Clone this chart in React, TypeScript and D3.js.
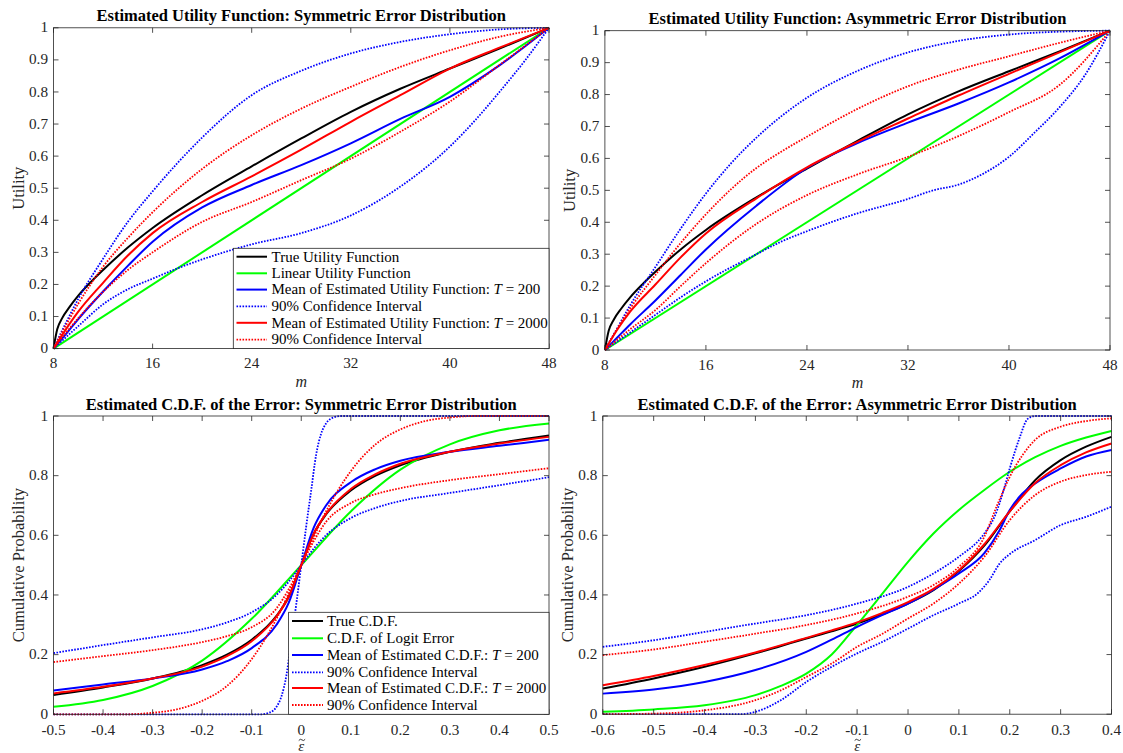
import React from "react";
import * as d3 from "d3";

type P = [number, number];

// ---------- tick labels ----------
const utilXTicks = [8, 16, 24, 32, 40, 48];
const utilYTicks = [0, 0.1, 0.2, 0.3, 0.4, 0.5, 0.6, 0.7, 0.8, 0.9, 1];
const utilYLabels = ["0", "0.1", "0.2", "0.3", "0.4", "0.5", "0.6", "0.7", "0.8", "0.9", "1"];
const symXTicks = [-0.5, -0.4, -0.3, -0.2, -0.1, 0, 0.1, 0.2, 0.3, 0.4, 0.5];
const symXLabels = ["-0.5", "-0.4", "-0.3", "-0.2", "-0.1", "0", "0.1", "0.2", "0.3", "0.4", "0.5"];
const asyXTicks = [-0.6, -0.5, -0.4, -0.3, -0.2, -0.1, 0, 0.1, 0.2, 0.3, 0.4];
const asyXLabels = ["-0.6", "-0.5", "-0.4", "-0.3", "-0.2", "-0.1", "0", "0.1", "0.2", "0.3", "0.4"];
const cdfYTicks = [0, 0.2, 0.4, 0.6, 0.8, 1];
const cdfYLabels = ["0", "0.2", "0.4", "0.6", "0.8", "1"];

// ---------- utility panels ----------
const trueUtility: P[] = [[8,0],[8.3,0.06],[8.7,0.095],[9.3,0.13],[10,0.165],[11,0.207],[12,0.245],[14,0.315],[16,0.376],[20,0.478],[24,0.568],[28,0.655],[32,0.738],[36,0.81],[40,0.873],[44,0.935],[48,1]];
const linearUtility: P[] = [[8,0],[48,1]];

const symUtilBlue: P[] = [[8,0],[9,0.045],[10,0.092],[12,0.178],[14,0.258],[16,0.333],[20,0.44],[24,0.51],[28,0.572],[32,0.64],[36,0.716],[40,0.785],[44,0.883],[48,1]];
const symUtilBlueUp: P[] = [[8,0],[9,0.08],[10,0.155],[12,0.28],[14,0.395],[16,0.49],[18,0.578],[20,0.658],[24,0.79],[28,0.866],[32,0.92],[36,0.956],[40,0.98],[44,0.995],[48,1]];
const symUtilBlueLo: P[] = [[8,0],[10,0.07],[12,0.138],[14,0.185],[16,0.218],[18,0.25],[20,0.278],[22,0.303],[24,0.325],[28,0.36],[32,0.415],[36,0.505],[40,0.63],[42,0.71],[44,0.8],[46,0.895],[48,1]];
const symUtilRed: P[] = [[8,0],[9,0.06],[10,0.115],[12,0.205],[14,0.29],[16,0.36],[20,0.457],[24,0.537],[28,0.62],[32,0.707],[36,0.79],[40,0.873],[44,0.938],[48,1]];
const symUtilRedUp: P[] = [[8,0],[10,0.14],[12,0.255],[14,0.345],[16,0.425],[20,0.56],[24,0.665],[28,0.748],[32,0.816],[36,0.878],[40,0.93],[44,0.972],[48,1]];
const symUtilRedLo: P[] = [[8,0],[10,0.095],[12,0.177],[14,0.245],[16,0.3],[20,0.395],[24,0.457],[28,0.525],[32,0.592],[36,0.676],[40,0.77],[44,0.884],[48,1]];

const asyUtilBlue: P[] = [[8,0],[9,0.04],[10,0.08],[12,0.155],[14,0.235],[16,0.315],[20,0.452],[24,0.57],[28,0.648],[32,0.712],[36,0.772],[40,0.838],[44,0.913],[48,1]];
const asyUtilBlueUp: P[] = [[8,0],[9,0.07],[10,0.14],[12,0.26],[14,0.38],[16,0.49],[18,0.585],[20,0.665],[24,0.79],[28,0.874],[32,0.932],[36,0.968],[40,0.988],[44,0.997],[48,1]];
const asyUtilBlueLo: P[] = [[8,0],[10,0.055],[12,0.11],[14,0.165],[16,0.215],[20,0.3],[22,0.34],[24,0.372],[28,0.428],[32,0.473],[34,0.5],[36,0.518],[38,0.553],[40,0.605],[42,0.68],[44,0.76],[46,0.86],[48,1]];
const asyUtilRed: P[] = [[8,0],[9,0.065],[10,0.12],[12,0.205],[14,0.29],[16,0.365],[20,0.475],[24,0.572],[28,0.652],[32,0.725],[36,0.797],[40,0.865],[44,0.932],[48,1]];
const asyUtilRedUp: P[] = [[8,0],[10,0.13],[12,0.235],[14,0.335],[16,0.425],[20,0.57],[22,0.622],[24,0.668],[28,0.755],[32,0.826],[36,0.878],[40,0.92],[44,0.962],[48,1]];
const asyUtilRedLo: P[] = [[8,0],[10,0.065],[12,0.125],[14,0.2],[16,0.272],[20,0.395],[24,0.485],[28,0.55],[32,0.605],[36,0.67],[40,0.745],[44,0.83],[48,1]];

// ---------- CDF symmetric ----------
const symCdfTrue: P[] = [[-0.5,0.065],[-0.4,0.09],[-0.3,0.12],[-0.2,0.165],[-0.15,0.2],[-0.1,0.25],[-0.05,0.33],[-0.025,0.395],[0,0.5],[0.025,0.605],[0.05,0.67],[0.1,0.75],[0.15,0.8],[0.2,0.835],[0.3,0.88],[0.4,0.91],[0.5,0.935]];
const symCdfLogit: P[] = [[-0.5,0.025],[-0.4,0.048],[-0.3,0.095],[-0.2,0.18],[-0.1,0.32],[0,0.5],[0.1,0.68],[0.2,0.82],[0.3,0.905],[0.4,0.952],[0.5,0.975]];
const symCdfBlue: P[] = [[-0.5,0.08],[-0.4,0.1],[-0.3,0.12],[-0.2,0.15],[-0.15,0.178],[-0.1,0.222],[-0.05,0.3],[-0.025,0.375],[0,0.5],[0.025,0.625],[0.05,0.7],[0.1,0.778],[0.15,0.822],[0.2,0.85],[0.3,0.88],[0.4,0.9],[0.5,0.92]];
const symCdfBlueSteep: P[] = [[-0.5,0],[-0.08,0],[-0.065,0.005],[-0.05,0.025],[-0.04,0.06],[-0.03,0.13],[-0.02,0.25],[-0.01,0.37],[0,0.5],[0.01,0.63],[0.02,0.75],[0.03,0.87],[0.04,0.94],[0.05,0.975],[0.065,0.995],[0.08,1],[0.5,1]];
const symCdfBlueFlat: P[] = [[-0.5,0.205],[-0.4,0.232],[-0.3,0.258],[-0.2,0.285],[-0.15,0.308],[-0.1,0.342],[-0.05,0.4],[-0.025,0.445],[0,0.5],[0.025,0.555],[0.05,0.6],[0.1,0.658],[0.15,0.692],[0.2,0.715],[0.3,0.742],[0.4,0.768],[0.5,0.795]];
const symCdfRed: P[] = [[-0.5,0.07],[-0.4,0.092],[-0.3,0.12],[-0.2,0.16],[-0.15,0.195],[-0.1,0.245],[-0.05,0.328],[-0.025,0.395],[0,0.5],[0.025,0.605],[0.05,0.672],[0.1,0.755],[0.15,0.805],[0.2,0.84],[0.3,0.88],[0.4,0.908],[0.5,0.93]];
const symCdfRedSteep: P[] = [[-0.5,0],[-0.35,0],[-0.3,0.005],[-0.25,0.017],[-0.2,0.045],[-0.15,0.095],[-0.1,0.185],[-0.05,0.32],[0,0.5],[0.05,0.68],[0.1,0.815],[0.15,0.905],[0.2,0.955],[0.25,0.983],[0.3,0.995],[0.35,1],[0.5,1]];
const symCdfRedFlat: P[] = [[-0.5,0.175],[-0.4,0.195],[-0.3,0.215],[-0.2,0.242],[-0.15,0.262],[-0.1,0.292],[-0.05,0.355],[-0.025,0.42],[0,0.5],[0.025,0.58],[0.05,0.645],[0.1,0.708],[0.15,0.738],[0.2,0.758],[0.3,0.785],[0.4,0.805],[0.5,0.825]];

// ---------- CDF asymmetric ----------
const asyCdfTrue: P[] = [[-0.6,0.086],[-0.5,0.12],[-0.4,0.159],[-0.3,0.204],[-0.2,0.254],[-0.15,0.278],[-0.1,0.304],[-0.05,0.335],[0,0.371],[0.05,0.416],[0.1,0.48],[0.15,0.565],[0.2,0.68],[0.25,0.785],[0.3,0.852],[0.35,0.897],[0.4,0.93]];
const asyCdfLogit: P[] = [[-0.6,0.008],[-0.5,0.016],[-0.4,0.03],[-0.3,0.064],[-0.25,0.095],[-0.2,0.136],[-0.15,0.2],[-0.1,0.3],[-0.05,0.405],[0,0.511],[0.05,0.606],[0.1,0.685],[0.15,0.752],[0.2,0.813],[0.25,0.862],[0.3,0.9],[0.35,0.928],[0.4,0.95]];
const asyCdfBlue: P[] = [[-0.6,0.069],[-0.5,0.083],[-0.4,0.108],[-0.3,0.148],[-0.2,0.209],[-0.15,0.25],[-0.1,0.293],[-0.05,0.333],[0,0.371],[0.05,0.418],[0.1,0.472],[0.15,0.54],[0.18,0.617],[0.2,0.685],[0.225,0.74],[0.25,0.774],[0.3,0.824],[0.35,0.864],[0.4,0.886]];
const asyCdfBlueUp: P[] = [[-0.6,0.226],[-0.5,0.248],[-0.4,0.276],[-0.3,0.304],[-0.2,0.332],[-0.1,0.371],[0,0.427],[0.05,0.472],[0.1,0.528],[0.15,0.606],[0.17,0.662],[0.19,0.763],[0.2,0.824],[0.21,0.88],[0.22,0.93],[0.235,0.99],[0.25,1],[0.4,1]];
const asyCdfBlueLo: P[] = [[-0.6,0],[-0.33,0],[-0.3,0.008],[-0.25,0.047],[-0.2,0.108],[-0.15,0.159],[-0.1,0.204],[-0.05,0.243],[0,0.287],[0.05,0.332],[0.1,0.371],[0.14,0.41],[0.16,0.45],[0.18,0.505],[0.2,0.537],[0.25,0.584],[0.3,0.634],[0.35,0.662],[0.4,0.696]];
const asyCdfRed: P[] = [[-0.6,0.097],[-0.5,0.128],[-0.4,0.165],[-0.3,0.207],[-0.2,0.256],[-0.15,0.281],[-0.1,0.308],[-0.05,0.34],[0,0.376],[0.05,0.42],[0.1,0.483],[0.15,0.57],[0.2,0.68],[0.25,0.775],[0.3,0.835],[0.35,0.878],[0.4,0.908]];
const asyCdfRedUp: P[] = [[-0.6,0.198],[-0.5,0.217],[-0.4,0.243],[-0.3,0.27],[-0.2,0.299],[-0.1,0.338],[0,0.394],[0.05,0.433],[0.1,0.494],[0.15,0.595],[0.175,0.7],[0.2,0.796],[0.25,0.92],[0.3,0.964],[0.35,0.983],[0.4,0.992]];
const asyCdfRedLo: P[] = [[-0.6,0],[-0.5,0.002],[-0.4,0.013],[-0.3,0.047],[-0.25,0.08],[-0.2,0.125],[-0.15,0.17],[-0.1,0.226],[-0.05,0.27],[0,0.321],[0.05,0.371],[0.1,0.438],[0.15,0.528],[0.2,0.651],[0.25,0.735],[0.3,0.78],[0.35,0.802],[0.4,0.813]];

// ---------- legends ----------
const utilLegend = ["True Utility Function", "Linear Utility Function", "Mean of Estimated Utility Function: ", "90% Confidence Interval", "Mean of Estimated Utility Function: ", "90% Confidence Interval"];
const cdfLegend = ["True C.D.F.", "C.D.F. of Logit Error", "Mean of Estimated C.D.F.: ", "90% Confidence Interval", "Mean of Estimated C.D.F.: ", "90% Confidence Interval"];
const legendT = [null, null, "200", null, "2000", null];

const BLACK = "#000000", GREEN = "#00ff00", BLUE = "#0000ff", RED = "#ff0000";
const legendStyles = [
  { c: BLACK, dot: false }, { c: GREEN, dot: false }, { c: BLUE, dot: false },
  { c: BLUE, dot: true }, { c: RED, dot: false }, { c: RED, dot: true },
];

const SERIF = "'Liberation Serif', 'Times New Roman', Times, serif";
const AX = "#262626";
const DASH = "1.6 1.4";

type Series = { data: P[]; c: string; dot?: boolean };
type Frame = { x0: number; x1: number; top: number; bottom: number };

function Panel(props: {
  f: Frame; xDomain: [number, number]; xTicks: number[]; xLabels: string[];
  yTicks: number[]; yLabels: string[]; title: string; titleY: number;
  xLabel: string; xTilde?: boolean; xLabelY: number; xLabelSize: number; xTickDy: number; yLabel: string; series: Series[];
  legend?: { texts: string[]; box: { x: number; y: number; w: number; h: number }; rowY: number[]; lx0: number; lx1: number; tx: number };
}) {
  const { f } = props;
  const xs = d3.scaleLinear().domain(props.xDomain).range([f.x0, f.x1]);
  const ys = d3.scaleLinear().domain([0, 1]).range([f.bottom, f.top]);
  const line = d3.line<P>().x((d) => xs(d[0])).y((d) => ys(d[1])).curve(d3.curveMonotoneX);
  const tl = 5;
  const cx = (f.x0 + f.x1) / 2;
  const cy = (f.top + f.bottom) / 2;
  const lg = props.legend;
  const ty = props.xLabelY - 11;
  return (
    <g>
      <rect x={f.x0} y={f.top} width={f.x1 - f.x0} height={f.bottom - f.top} fill="#fff" />
      {props.series.map((s, i) => (
        <path key={i} d={line(s.data) || ""} fill="none" stroke={s.c} strokeWidth={s.dot ? 1.8 : 2}
          strokeDasharray={s.dot ? DASH : undefined} />
      ))}
      <rect x={f.x0} y={f.top} width={f.x1 - f.x0} height={f.bottom - f.top} fill="none" stroke={AX} strokeWidth={0.8} />
      {props.xTicks.map((t, i) => (
        <g key={"x" + i}>
          <line x1={xs(t)} x2={xs(t)} y1={f.bottom} y2={f.bottom - tl} stroke={AX} strokeWidth={0.8} />
          <line x1={xs(t)} x2={xs(t)} y1={f.top} y2={f.top + tl} stroke={AX} strokeWidth={0.8} />
          <text x={xs(t)} y={f.bottom + props.xTickDy} textAnchor="middle" fontFamily={SERIF} fontSize={15.2} fill={AX}>{props.xLabels[i]}</text>
        </g>
      ))}
      {props.yTicks.map((t, i) => (
        <g key={"y" + i}>
          <line x1={f.x0} x2={f.x0 + tl} y1={ys(t)} y2={ys(t)} stroke={AX} strokeWidth={0.8} />
          <line x1={f.x1} x2={f.x1 - tl} y1={ys(t)} y2={ys(t)} stroke={AX} strokeWidth={0.8} />
          <text x={f.x0 - 5.5} y={ys(t) + 4.6} textAnchor="end" fontFamily={SERIF} fontSize={15.2} fill={AX}>{props.yLabels[i]}</text>
        </g>
      ))}
      <text x={cx} y={props.titleY} textAnchor="middle" fontFamily={SERIF} fontWeight="bold" fontSize={16.5} fill="#000">{props.title}</text>
      <text x={cx} y={props.xLabelY} textAnchor="middle" fontFamily={SERIF} fontStyle="italic" fontSize={props.xLabelSize} fill={AX}>{props.xLabel}</text>
      {props.xTilde && (
        <path d={`M${cx - 2.5},${ty + 1} q1.6,-2.2 3.2,-0.6 t3.2,-0.6`} fill="none" stroke={AX} strokeWidth={0.9} />
      )}
      <text transform={`translate(${f.x0 - 30},${cy}) rotate(-90)`} textAnchor="middle" fontFamily={SERIF} fontSize={16.5} fill={AX}>{props.yLabel}</text>
      {lg && (
        <g>
          <rect x={lg.box.x} y={lg.box.y} width={lg.box.w} height={lg.box.h} fill="#fff" stroke={AX} strokeWidth={0.8} />
          {lg.texts.map((t, i) => (
            <g key={"l" + i}>
              <line x1={lg.lx0} x2={lg.lx1} y1={lg.rowY[i]} y2={lg.rowY[i]} stroke={legendStyles[i].c}
                strokeWidth={legendStyles[i].dot ? 1.8 : 2} strokeDasharray={legendStyles[i].dot ? DASH : undefined} />
              <text x={lg.tx} y={lg.rowY[i] + 4.8} fontFamily={SERIF} fontSize={15} fill="#000">
                {t}
                {legendT[i] && <tspan fontStyle="italic">T</tspan>}
                {legendT[i] && <tspan>{" = " + legendT[i]}</tspan>}
              </text>
            </g>
          ))}
        </g>
      )}
    </g>
  );
}

export default function App() {
  const utilSeries = (blue: P[], bUp: P[], bLo: P[], red: P[], rUp: P[], rLo: P[]): Series[] => [
    { data: trueUtility, c: BLACK }, { data: linearUtility, c: GREEN },
    { data: blue, c: BLUE }, { data: bUp, c: BLUE, dot: true }, { data: bLo, c: BLUE, dot: true },
    { data: red, c: RED }, { data: rUp, c: RED, dot: true }, { data: rLo, c: RED, dot: true },
  ];
  const cdfSeries = (tr: P[], lg: P[], blue: P[], bUp: P[], bLo: P[], red: P[], rUp: P[], rLo: P[]): Series[] => [
    { data: tr, c: BLACK }, { data: lg, c: GREEN },
    { data: blue, c: BLUE }, { data: bUp, c: BLUE, dot: true }, { data: bLo, c: BLUE, dot: true },
    { data: red, c: RED }, { data: rUp, c: RED, dot: true }, { data: rLo, c: RED, dot: true },
  ];
  const TL: Frame = { x0: 53.5, x1: 549, top: 27.8, bottom: 348.6 };
  const TR: Frame = { x0: 604.9, x1: 1110, top: 30.7, bottom: 350 };
  const BL: Frame = { x0: 53.5, x1: 549, top: 416, bottom: 714.3 };
  const BR: Frame = { x0: 602.8, x1: 1111.5, top: 416, bottom: 714.2 };
  return (
    <svg width={1123} height={753} style={{ position: "absolute", left: 0, top: 0, background: "#fff" }}>
      <rect width={1123} height={753} fill="#fff" />
      <Panel f={TL} xDomain={[8, 48]} xTicks={utilXTicks} xLabels={utilXTicks.map(String)} yTicks={utilYTicks} yLabels={utilYLabels}
        title="Estimated Utility Function: Symmetric Error Distribution" titleY={20.5} xLabel="m" xLabelY={387} xLabelSize={16} xTickDy={19.8} yLabel="Utility"
        series={utilSeries(symUtilBlue, symUtilBlueUp, symUtilBlueLo, symUtilRed, symUtilRedUp, symUtilRedLo)}
        legend={{ texts: utilLegend, box: { x: 233.3, y: 248.3, w: 315.7, h: 100.3 }, rowY: [256.7, 273.3, 289.6, 306.4, 322.8, 339.6], lx0: 236.5, lx1: 267, tx: 271.5 }} />
      <Panel f={TR} xDomain={[8, 48]} xTicks={utilXTicks} xLabels={utilXTicks.map(String)} yTicks={utilYTicks} yLabels={utilYLabels}
        title="Estimated Utility Function: Asymmetric Error Distribution" titleY={23.5} xLabel="m" xLabelY={388} xLabelSize={16} xTickDy={19.8} yLabel="Utility"
        series={utilSeries(asyUtilBlue, asyUtilBlueUp, asyUtilBlueLo, asyUtilRed, asyUtilRedUp, asyUtilRedLo)} />
      <Panel f={BL} xDomain={[-0.5, 0.5]} xTicks={symXTicks} xLabels={symXLabels} yTicks={cdfYTicks} yLabels={cdfYLabels}
        title="Estimated C.D.F. of the Error: Symmetric Error Distribution" titleY={409.5} xLabel={"\u03B5"} xTilde xLabelY={750.5} xLabelSize={15} xTickDy={20.3} yLabel="Cumulative Probability"
        series={cdfSeries(symCdfTrue, symCdfLogit, symCdfBlue, symCdfBlueSteep, symCdfBlueFlat, symCdfRed, symCdfRedSteep, symCdfRedFlat)}
        legend={{ texts: cdfLegend, box: { x: 288.6, y: 612.3, w: 260.4, h: 102 }, rowY: [621, 638.3, 655, 672.3, 688, 705], lx0: 292, lx1: 323, tx: 327 }} />
      <Panel f={BR} xDomain={[-0.6, 0.4]} xTicks={asyXTicks} xLabels={asyXLabels} yTicks={cdfYTicks} yLabels={cdfYLabels}
        title="Estimated C.D.F. of the Error: Asymmetric Error Distribution" titleY={409.5} xLabel={"\u03B5"} xTilde xLabelY={750.5} xLabelSize={15} xTickDy={20.3} yLabel="Cumulative Probability"
        series={cdfSeries(asyCdfTrue, asyCdfLogit, asyCdfBlue, asyCdfBlueUp, asyCdfBlueLo, asyCdfRed, asyCdfRedUp, asyCdfRedLo)} />
    </svg>
  );
}
